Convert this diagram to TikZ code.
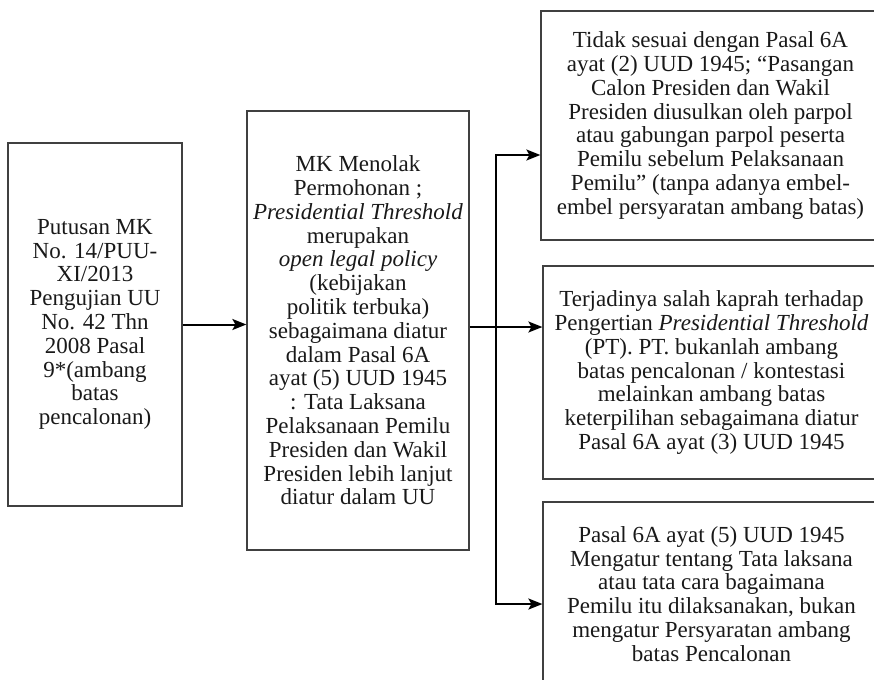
\documentclass[tikz,border=0pt]{standalone}
\usepackage{fontspec}
\setmainfont{Liberation Serif}
\usetikzlibrary{arrows.meta}

\begin{document}
\begin{tikzpicture}[
    x=1pt, y=-1pt,
    box/.style={rectangle, draw=black!75, line width=1.2pt, inner sep=0pt, align=center, text=black!90,
      font=\fontsize{23}{23.8}\selectfont},
    link/.style={draw=black, line width=2pt},
    arrow/.style={link, -{Stealth[length=14pt, width=11pt, inset=3pt]}}
  ]
    \useasboundingbox (0,0) rectangle (874,679);
    \clip (0,0) rectangle (874,679);

    \node[box, minimum width=174pt, minimum height=363pt] (putusan) at (95, 324.5)
      {Putusan MK\\No. 14/PUU-\\XI/2013\\Pengujian UU\\No. 42 Thn\\2008 Pasal\\9*(ambang\\batas\\pencalonan)};
    \node[box, minimum width=222pt, minimum height=439pt] (menolak) at (358, 330.5)
      {MK Menolak\\Permohonan ;\\\textit{Presidential Threshold}\\merupakan\\\textit{open legal policy}\\(kebijakan\\politik terbuka)\\sebagaimana diatur\\dalam Pasal 6A\\ayat (5) UUD 1945\\: Tata Laksana\\Pelaksanaan Pemilu\\Presiden dan Wakil\\Presiden lebih lanjut\\diatur dalam UU};
    \node[box, minimum width=339pt, minimum height=229pt] (tidaksesuai) at (710.5, 125.5)
      {Tidak sesuai dengan Pasal 6A\\ayat (2) UUD 1945; “Pasangan\\Calon Presiden dan Wakil\\Presiden diusulkan oleh parpol\\atau gabungan parpol peserta\\Pemilu sebelum Pelaksanaan\\Pemilu” (tanpa adanya embel-\\embel persyaratan ambang batas)};
    \node[box, minimum width=337pt, minimum height=213pt] (salahkaprah) at (711.5, 372.5)
      {Terjadinya salah kaprah terhadap\\Pengertian \textit{Presidential Threshold}\\(PT). PT. bukanlah ambang\\batas pencalonan / kontestasi\\melainkan ambang batas\\keterpilihan sebagaimana diatur\\Pasal 6A ayat (3) UUD 1945};
    \node[box, minimum width=337pt, minimum height=184pt] (tatalaksana) at (711.5, 594)
      {Pasal 6A ayat (5) UUD 1945\\Mengatur tentang Tata laksana\\atau tata cara bagaimana\\Pemilu itu dilaksanakan, bukan\\mengatur Persyaratan ambang\\batas Pencalonan};

    \coordinate (split) at (496, 327);

    \draw[arrow] (putusan.east) -- (putusan.east -| menolak.west);
    \draw[link] (menolak.east |- split) -- (split);
    \draw[arrow] (split) |- ([yshift=-29.5pt]tidaksesuai.west);
    \draw[arrow] (split) -- ([yshift=45.5pt]salahkaprah.west);
    \draw[arrow] (split) |- ([yshift=-10pt]tatalaksana.west);

  \end{tikzpicture}
\end{document}
